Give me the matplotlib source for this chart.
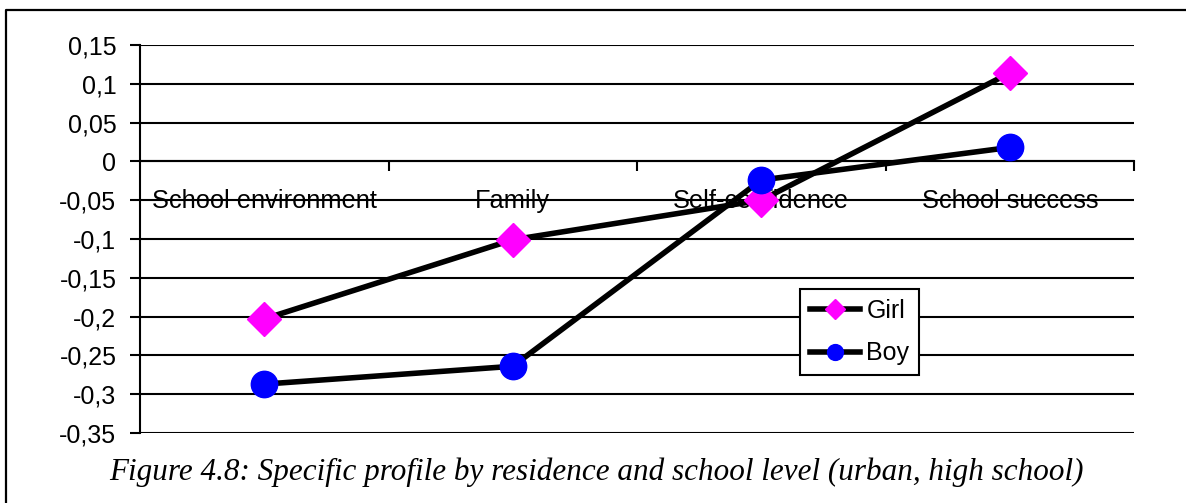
import numpy as np
import matplotlib.pyplot as plt
from matplotlib.lines import Line2D

categories = ['School environment', 'Family', 'Self-confidence', 'School success']
girl = [-0.203, -0.101, -0.05, 0.114]
boy = [-0.287, -0.264, -0.024, 0.018]
yticks = [0.15, 0.1, 0.05, 0, -0.05, -0.1, -0.15, -0.2, -0.25, -0.3, -0.35]
ytick_labels = ['0,15', '0,1', '0,05', '0', '-0,05', '-0,1', '-0,15', '-0,2', '-0,25', '-0,3', '-0,35']
caption = 'Figure 4.8: Specific profile by residence and school level (urban, high school)'

W, H = 1186, 503
fig = plt.figure(figsize=(W / 100, H / 100), dpi=100)
plt.rcParams['font.family'] = ['Liberation Sans', 'DejaVu Sans']

ax = fig.add_axes([140 / W, 1 - 433 / H, (1134 - 140) / W, (433 - 45) / H])

x = np.arange(len(categories)) + 0.5
ax.set_xlim(0, len(categories))
ax.set_ylim(-0.35, 0.15)

for yv in yticks:
    ax.axhline(yv, color='black', lw=1.5, zorder=1)

ax.plot(x, girl, color='black', lw=4, marker='D', markersize=17,
        markerfacecolor='#ff00ff', markeredgecolor='#ff00ff', label='Girl', zorder=4)
ax.plot(x, boy, color='black', lw=4, marker='o', markersize=19,
        markerfacecolor='#0000ff', markeredgecolor='#0000ff', label='Boy', zorder=4)

ax.spines['top'].set_visible(False)
ax.spines['right'].set_visible(False)
ax.spines['bottom'].set_position(('data', 0))
ax.spines['left'].set_linewidth(1.5)
ax.spines['bottom'].set_linewidth(1.5)

ax.set_yticks(yticks)
ax.set_yticklabels(ytick_labels)
ax.tick_params(axis='y', length=7, width=1.5, pad=10, labelsize=18)

ax.set_xticks(x)
ax.set_xticklabels(categories)
ax.set_xticks(np.arange(1, len(categories) + 1), minor=True)
ax.tick_params(axis='x', which='major', length=0, pad=20, labelsize=18.3)
ax.tick_params(axis='x', which='minor', length=7, width=1.5, direction='out')
for lab in ax.get_xticklabels():
    lab.set_zorder(2)

leg = ax.legend(loc='upper left', bbox_to_anchor=(800 / W, 1 - 289 / H),
                bbox_transform=fig.transFigure, borderaxespad=0,
                fontsize=18, markerscale=0.6, handlelength=2.0,
                handletextpad=0.25, labelspacing=0.73, borderpad=0.4,
                fancybox=False, framealpha=1, edgecolor='black')
leg.get_frame().set_linewidth(1.5)
leg.set_zorder(5)

fig.text(596 / W, 1 - 472 / H, caption, ha='center', va='center',
         fontsize=22.4, style='italic', family=['Liberation Serif', 'DejaVu Serif'])

# outer frame (left and top only visible)
fig.add_artist(Line2D([6 / W, 6 / W, 1], [0, 1 - 10 / H, 1 - 10 / H],
                      transform=fig.transFigure, color='black', lw=1.6))

fig.savefig('out.png', dpi=100)
